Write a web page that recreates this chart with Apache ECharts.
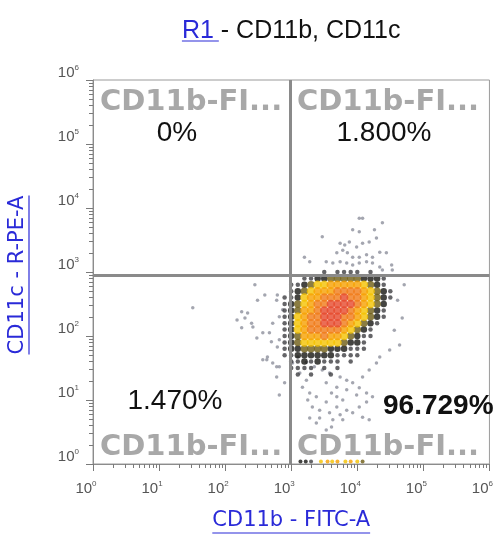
<!DOCTYPE html>
<html>
<head>
<meta charset="utf-8">
<script src="https://cdn.jsdelivr.net/npm/echarts@6/dist/echarts.min.js"></script>
<style>
  html, body { margin: 0; padding: 0; background: #fff; }
  #chart { width: 496px; height: 536px; }
</style>
</head>
<body>
<div id="chart"></div>
<script>
// Both axes are in decades: log10 of the fluorescence intensity.
const decades = [0, 1, 2, 3, 4, 5, 6];
const minorSteps = [2, 3, 4, 5, 6, 7, 8, 9];

// Quadrant gate thresholds (decades)
const gateX = 2.98;   // CD11b - FITC-A
const gateY = 2.95;   // CD11c - R-PE-A

// Quadrant statistics: upper-left, upper-right, lower-left, lower-right
const quadrantNames = ['CD11b-FI...', 'CD11b-FI...', 'CD11b-FI...', 'CD11b-FI...'];
const quadrantPercents = ['0%', '1.800%', '1.470%', '96.729%'];

// Density of the main population on a 0.1-decade grid.
// Columns follow densityX, rows follow densityY; digit = density level (0 empty .. 7 peak).
const densityX = [2.9, 3.0, 3.1, 3.2, 3.3, 3.4, 3.5, 3.6, 3.7, 3.8, 3.9, 4.0, 4.1, 4.2, 4.3, 4.4, 4.5, 4.6];
const densityY = [3.0, 2.9, 2.8, 2.7, 2.6, 2.5, 2.4, 2.3, 2.2, 2.1, 2.0, 1.9, 1.8, 1.7, 1.6, 1.5, 1.4];
const densityRows = [
  '000000101111010000',
  '000112233333222100',
  '011234455555432100',
  '012345556666543210',
  '112455666766543210',
  '123456677776543200',
  '123556777765432100',
  '124566777665432100',
  '124566777654321000',
  '124566666543210000',
  '123555655432110000',
  '123444444322100000',
  '122333322211100000',
  '112222221111000000',
  '011212111010000000',
  '011110101000000000',
  '001010010000000000'
];

// Sparse events outside the dense core: [CD11b decade, CD11c decade]
const sparseEvents = [
  // above the CD11c gate
  [4.03, 3.84], [4.08, 3.84], [3.93, 3.66], [4.03, 3.63], [4.26, 3.66], [4.38, 3.77],
  [4.29, 3.53], [4.18, 3.47], [4.08, 3.45], [3.99, 3.39], [3.88, 3.47], [3.81, 3.42],
  [3.74, 3.45], [3.78, 3.34], [3.69, 3.30], [3.85, 3.30], [3.93, 3.23], [4.03, 3.23],
  [4.14, 3.27], [4.23, 3.23], [4.34, 3.31], [4.44, 3.30], [4.52, 3.11], [4.53, 3.03],
  [3.47, 3.55], [3.20, 3.23], [3.28, 3.16], [3.53, 3.16], [3.63, 3.14], [3.74, 3.16],
  [3.84, 3.14], [3.93, 3.11], [4.03, 3.14], [4.14, 3.16], [4.23, 3.14], [4.34, 3.08],
  [4.38, 3.03],
  // left of the CD11b gate
  [1.51, 2.44], [2.45, 2.80], [2.60, 2.64], [2.49, 2.56], [2.79, 2.64], [2.78, 2.56],
  [2.25, 2.38], [2.34, 2.36], [2.18, 2.25], [2.30, 2.28], [2.40, 2.20], [2.25, 2.13],
  [2.42, 2.14], [2.57, 2.05], [2.67, 2.05], [2.48, 1.97], [2.70, 1.91], [2.79, 1.83],
  [2.82, 1.94], [2.64, 1.67], [2.57, 1.63], [2.78, 1.52], [2.72, 2.20], [2.82, 2.30],
  [2.87, 2.41],
  // below the core
  [2.63, 1.63], [2.72, 1.58], [2.82, 1.52], [2.78, 1.36], [2.90, 1.27], [2.82, 1.08],
  [3.13, 1.42], [3.23, 1.31], [3.17, 1.20], [3.28, 1.11], [3.25, 1.00], [3.38, 1.05],
  [3.32, 0.89], [3.43, 0.84], [3.53, 0.97], [3.61, 1.11], [3.69, 1.05], [3.78, 1.00],
  [3.69, 0.89], [3.58, 0.80], [3.74, 0.77], [3.84, 0.84], [3.93, 0.80], [4.03, 0.89],
  [4.14, 0.97], [4.08, 0.73], [4.18, 0.69], [3.78, 0.69], [3.63, 0.69], [3.43, 0.72],
  [3.28, 0.72], [3.38, 0.64], [3.53, 0.53], [3.61, 0.58], [3.02, 1.58], [3.10, 1.67],
  [3.23, 1.59], [3.35, 1.52], [3.47, 1.47], [3.58, 1.42], [3.74, 1.36], [3.84, 1.31],
  [3.93, 1.27], [4.03, 1.19], [4.14, 1.11], [4.23, 1.05], [3.53, 1.27], [3.69, 1.20],
  [3.84, 1.16], [3.99, 1.08], [4.08, 1.36], [4.18, 1.47], [4.29, 1.58], [4.34, 1.67],
  // right of the core
  [4.56, 2.09], [4.64, 1.86], [4.68, 2.28], [4.61, 2.56], [4.71, 2.80], [4.49, 1.78]
];

// Events piled on the lower CD11c limit: [CD11b decade, CD11c decade, density level]
const axisEvents = [
  [3.14, 0.04, 2], [3.22, 0.04, 2], [3.30, 0.04, 1], [3.45, 0.04, 4], [3.55, 0.04, 5],
  [3.62, 0.04, 4], [3.70, 0.04, 5], [3.82, 0.04, 4], [3.90, 0.04, 5], [4.00, 0.04, 4],
  [4.08, 0.04, 3]
];

// ---- styling ----
const levelColors = ['#ffffff', '#3e3e42', '#151512', '#6e5c14', '#f4c200', '#f6a000', '#f07a18', '#e6482c'];
const levelSizes  = [0, 4.5, 6.5, 7.5, 8.5, 8.5, 8.5, 8.5];
const axisGray = '#8c8c8c';
const tickGray = '#7a7a7a';
const labelFont = '"Liberation Sans", Arial, sans-serif';
const majorTickLen = 7, minorTickLen = 4;

const levelData = levelColors.map(() => []);
densityRows.forEach((row, i) => {
  row.split('').forEach((ch, j) => {
    const lv = +ch;
    if (lv > 0) levelData[lv].push([densityX[j], densityY[i]]);
  });
});

// Log-decade sub-steps (2..9) inside each decade
const minorTicks = decades.slice(0, -1).flatMap(d => minorSteps.map(k => d + Math.log10(k)));

function decadeLabel(v) { return '{b|10}{s|' + v + '}'; }
const labelRich = {
  b: { fontSize: 15, fontFamily: labelFont, color: '#555', lineHeight: 18 },
  s: { fontSize: 8, fontFamily: labelFont, color: '#555', verticalAlign: 'top', lineHeight: 18 }
};

function mainAxis(isX) {
  return {
    type: 'value', min: 0, max: 6, interval: 1, gridIndex: 0,
    position: isX ? 'bottom' : 'left',
    axisLine: { show: true, lineStyle: { color: axisGray, width: 1 } },
    axisTick: { show: false },
    axisLabel: {
      show: true, formatter: decadeLabel, rich: labelRich,
      margin: isX ? 16 : 14,
      padding: isX ? [0, 14, 0, 0] : [0, 0, 14, 0],
      showMinLabel: true, showMaxLabel: true
    },
    splitLine: { show: false }
  };
}

const series = [
  {
    name: 'sparse', type: 'scatter', data: sparseEvents,
    symbolSize: 3.5, itemStyle: { color: '#8d909c' }, silent: true
  }
];
for (let lv = 1; lv < levelColors.length; lv++) {
  series.push({
    name: 'level' + lv, type: 'scatter', data: levelData[lv],
    symbolSize: levelSizes[lv], itemStyle: { color: levelColors[lv] }, silent: true
  });
}
series.push({
  name: 'axis', type: 'scatter', data: axisEvents,
  symbolSize: 4,
  itemStyle: { color: p => levelColors[p.data[2]] },
  silent: true,
  markLine: {
    silent: true, symbol: 'none', animation: false,
    label: { show: false },
    lineStyle: { color: '#8a8a8a', width: 3, type: 'solid' },
    data: [{ xAxis: gateX }, { yAxis: gateY }]
  }
});

const chart = echarts.init(document.getElementById('chart'), null, { renderer: 'canvas' });
chart.setOption({
  animation: false,
  backgroundColor: '#fff',
  grid: { left: 93, right: 6, top: 80, bottom: 72, show: true, borderColor: '#9a9a9a', borderWidth: 1 },
  xAxis: mainAxis(true),
  yAxis: mainAxis(false),
  series: series
});

// ---- overlay: tick marks, title, axis names, quadrant names and statistics ----
const ctx = document.createElement('canvas').getContext('2d');
function textWidth(t, font) { ctx.font = font; return ctx.measureText(t).width; }

const linkBlue = '#2a2ad8';
const titleFont = '25px ' + labelFont;
const nameFont = '21px "DejaVu Sans", Verdana, sans-serif';
const quadFont = 'bold 29px "DejaVu Sans", Verdana, sans-serif';
const pctFont = '28px ' + labelFont;

const grid = chart.getModel().getComponent('grid', 0).coordinateSystem.getRect();
const gx = chart.convertToPixel({ xAxisIndex: 0 }, gateX);
const plotCx = grid.x + grid.width / 2;
const axisBottom = grid.y + grid.height;
const axisLeft = grid.x;

const elements = [];

// Tick marks, placed through the axis scales (crisp on half pixels)
function addTicks(values, len) {
  values.forEach(v => {
    const px = Math.round(chart.convertToPixel({ xAxisIndex: 0 }, v)) + 0.5;
    elements.push({ type: 'line', silent: true, z: 50,
      shape: { x1: px, y1: axisBottom, x2: px, y2: axisBottom + len },
      style: { stroke: tickGray, lineWidth: 1 } });
    const py = Math.round(chart.convertToPixel({ yAxisIndex: 0 }, v)) + 0.5;
    elements.push({ type: 'line', silent: true, z: 50,
      shape: { x1: axisLeft - len, y1: py, x2: axisLeft, y2: py },
      style: { stroke: tickGray, lineWidth: 1 } });
  });
}
addTicks(decades, majorTickLen);
addTicks(minorTicks, minorTickLen);

// Title: "R1" is a link, underlined
const tLink = 'R1 ', tRest = '- CD11b, CD11c';
const wLink = textWidth(tLink, titleFont), wRest = textWidth(tRest, titleFont);
const tx0 = plotCx - (wLink + wRest) / 2;
elements.push(
  { type: 'text', x: tx0, y: 31, style: { text: tLink, font: titleFont, fill: linkBlue, textAlign: 'left', textVerticalAlign: 'middle' } },
  { type: 'text', x: tx0 + wLink, y: 31, style: { text: tRest, font: titleFont, fill: '#111', textAlign: 'left', textVerticalAlign: 'middle' } },
  { type: 'line', shape: { x1: tx0, y1: 41, x2: tx0 + wLink - 2, y2: 41 }, style: { stroke: linkBlue, lineWidth: 1.2 } }
);

// X axis name
const xName = 'CD11b - FITC-A';
const wx = textWidth(xName, nameFont);
elements.push(
  { type: 'text', x: plotCx, y: 521, style: { text: xName, font: nameFont, fill: linkBlue, textAlign: 'center', textVerticalAlign: 'middle' } },
  { type: 'line', shape: { x1: plotCx - wx / 2, y1: 533, x2: plotCx + wx / 2, y2: 533 }, style: { stroke: linkBlue, lineWidth: 1.2 } }
);

// Y axis name, rotated
const yName = 'CD11c - R-PE-A';
const wy = textWidth(yName, nameFont);
elements.push({
  type: 'group', x: 18, y: 275, rotation: Math.PI / 2,
  children: [
    { type: 'text', x: 0, y: 0, style: { text: yName, font: nameFont, fill: linkBlue, textAlign: 'center', textVerticalAlign: 'middle' } },
    { type: 'line', shape: { x1: -wy / 2, y1: 11, x2: wy / 2, y2: 11 }, style: { stroke: linkBlue, lineWidth: 1.2 } }
  ]
});

// Quadrant names
const qLeft = grid.x + 7, qRight = gx + 7;
const qTop = grid.y + 22, qBottom = grid.y + grid.height - 17;
[[qLeft, qTop], [qRight, qTop], [qLeft, qBottom], [qRight, qBottom]].forEach((p, i) => {
  elements.push({ type: 'text', x: p[0], y: p[1], z: 100,
    style: { text: quadrantNames[i], font: quadFont, fill: '#a8a8a8', textAlign: 'left', textVerticalAlign: 'middle' } });
});

// Quadrant percentages
const pctPos = [[177, 133, 'center', pctFont], [384, 133, 'center', pctFont], [175, 401, 'center', pctFont], [383, 406, 'left', 'bold ' + pctFont]];
pctPos.forEach((p, i) => {
  elements.push({ type: 'text', x: p[0], y: p[1], z: 100,
    style: { text: quadrantPercents[i], font: p[3], fill: '#111', textAlign: p[2], textVerticalAlign: 'middle' } });
});

chart.setOption({ graphic: { elements: elements } });
</script>
</body>
</html>
